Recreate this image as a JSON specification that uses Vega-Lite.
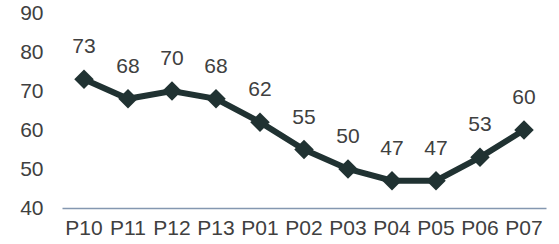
{
  "$schema": "https://vega.github.io/schema/vega-lite/v6.json",
  "width": 484,
  "height": 195,
  "autosize": {"type": "none"},
  "padding": {"left": 62, "top": 13, "right": 13, "bottom": 36},
  "background": "white",
  "config": {"view": {"stroke": null}, "font": "Liberation Sans"},
  "data": {"values": [
    {"p": "P10", "v": 73}, {"p": "P11", "v": 68}, {"p": "P12", "v": 70}, {"p": "P13", "v": 68},
    {"p": "P01", "v": 62}, {"p": "P02", "v": 55}, {"p": "P03", "v": 50}, {"p": "P04", "v": 47},
    {"p": "P05", "v": 47}, {"p": "P06", "v": 53}, {"p": "P07", "v": 60}
  ]},
  "encoding": {
    "x": {"field": "p", "type": "ordinal", "sort": null, "scale": {"type": "band", "paddingInner": 0, "paddingOuter": 0},
      "axis": {"title": null, "labelAngle": 0, "labelFontSize": 21, "labelColor": "#404040", "ticks": false, "domainColor": "#8497B0", "domainWidth": 1.5, "labelPadding": 9}},
    "y": {"field": "v", "type": "quantitative", "scale": {"domain": [40, 90], "nice": false, "zero": false},
      "axis": {"title": null, "values": [40, 50, 60, 70, 80, 90], "grid": false, "domain": false, "ticks": false, "labelFontSize": 21, "labelColor": "#404040", "labelPadding": 19}}
  },
  "layer": [
    {"mark": {"type": "line", "color": "#203232", "strokeWidth": 6}},
    {"mark": {"type": "point", "shape": "diamond", "filled": true, "color": "#203232", "size": 380, "opacity": 1}},
    {"mark": {"type": "text", "fontSize": 21, "color": "#404040", "dy": -32, "baseline": "middle"}, "encoding": {"text": {"field": "v"}}}
  ]
}
